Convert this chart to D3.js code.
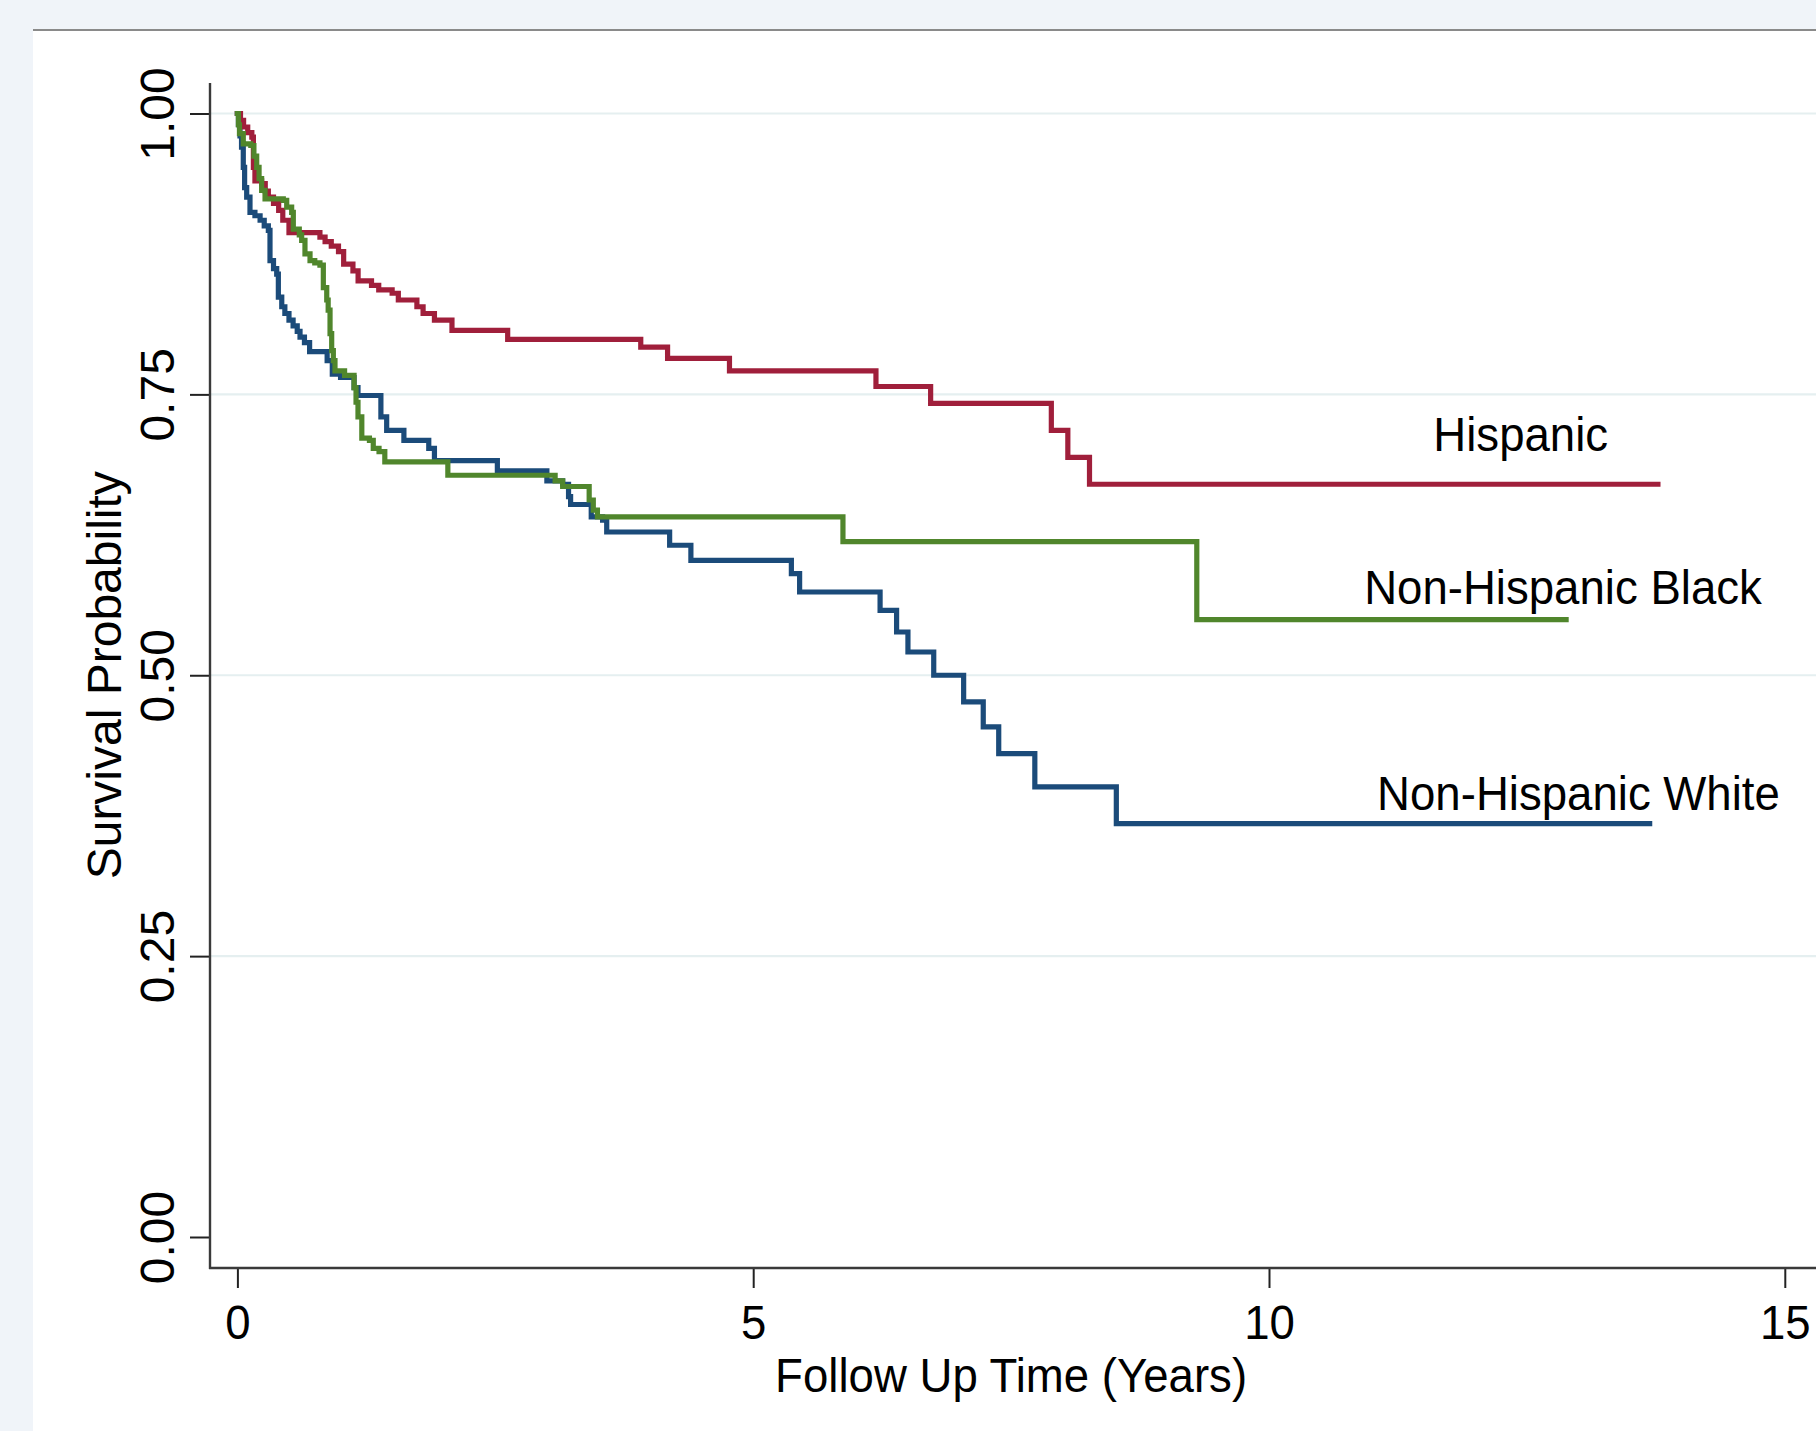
<!DOCTYPE html>
<html><head><meta charset="utf-8">
<script src="https://cdn.jsdelivr.net/npm/d3@7"></script>
<style>
html,body{margin:0;padding:0;background:#f0f4f9;}
svg{display:block;}
text{font-family:"Liberation Sans",Arial,Helvetica,sans-serif;fill:#000;}
</style></head><body>
<svg id="chart" width="1816" height="1431"></svg>
<script>
// ---------- data (Kaplan-Meier step points: time in years, survival probability) ----------
const groups = ["Non-Hispanic White", "Hispanic", "Non-Hispanic Black"];
const groupColors = ["#1b4b7a", "#a01f3b", "#50862c"];

const nhwTime = [0, 0.01, 0.025, 0.04, 0.057, 0.07, 0.09, 0.122, 0.17, 0.22, 0.26, 0.30, 0.316, 0.35, 0.381, 0.397, 0.43, 0.46, 0.50, 0.54, 0.58, 0.607, 0.65, 0.70, 0.87, 0.92, 1.00, 1.131, 1.169, 1.391, 1.447, 1.614, 1.855, 1.91, 2.52, 3.0, 3.153, 3.21, 3.23, 3.43, 3.54, 3.58, 4.19, 4.396, 5.37, 5.45, 6.23, 6.39, 6.50, 6.75, 7.04, 7.23, 7.38, 7.73, 8.52, 13.69];
const nhwSurv = [1.0, 0.99, 0.98, 0.970, 0.952, 0.934, 0.9255, 0.912, 0.909, 0.905, 0.90, 0.896, 0.869, 0.862, 0.857, 0.8366, 0.828, 0.822, 0.816, 0.811, 0.806, 0.801, 0.796, 0.788, 0.780, 0.768, 0.765, 0.756, 0.749, 0.730, 0.718, 0.709, 0.702, 0.691, 0.682, 0.673, 0.670, 0.659, 0.652, 0.641, 0.638, 0.6275, 0.6157, 0.6023, 0.5905, 0.5741, 0.5578, 0.5385, 0.5207, 0.500, 0.4763, 0.454, 0.4303, 0.4006, 0.368, 0.368];

const hispTime = [0, 0.03, 0.06, 0.10, 0.14, 0.155, 0.17, 0.235, 0.27, 0.30, 0.35, 0.40, 0.44, 0.50, 0.80, 0.85, 0.91, 0.98, 1.03, 1.12, 1.17, 1.30, 1.37, 1.50, 1.56, 1.74, 1.80, 1.91, 2.08, 2.62, 3.91, 4.17, 4.77, 6.19, 6.72, 7.89, 8.05, 8.26, 13.77];
const hispSurv = [1.0, 0.994, 0.988, 0.983, 0.979, 0.952, 0.940, 0.9375, 0.931, 0.9255, 0.92, 0.9137, 0.905, 0.894, 0.890, 0.886, 0.882, 0.877, 0.866, 0.860, 0.851, 0.847, 0.843, 0.840, 0.834, 0.828, 0.822, 0.816, 0.807, 0.799, 0.792, 0.782, 0.771, 0.757, 0.742, 0.718, 0.694, 0.670, 0.670];

const nhbTime = [0, 0.01, 0.02, 0.057, 0.13, 0.16, 0.187, 0.21, 0.235, 0.268, 0.445, 0.478, 0.526, 0.542, 0.60, 0.623, 0.655, 0.704, 0.75, 0.80, 0.833, 0.866, 0.88, 0.898, 0.914, 0.93, 0.946, 1.039, 1.131, 1.15, 1.169, 1.206, 1.28, 1.317, 1.373, 1.429, 2.04, 3.08, 3.153, 3.41, 3.45, 3.49, 5.87, 9.30, 12.88];
const nhbSurv = [1.0, 0.99, 0.982, 0.973, 0.9715, 0.962, 0.952, 0.942, 0.9315, 0.924, 0.9226, 0.9166, 0.912, 0.897, 0.892, 0.887, 0.875, 0.869, 0.867, 0.865, 0.845, 0.834, 0.825, 0.804, 0.789, 0.78, 0.771, 0.767, 0.756, 0.743, 0.730, 0.711, 0.709, 0.702, 0.699, 0.690, 0.678, 0.673, 0.668, 0.656, 0.647, 0.641, 0.619, 0.5495, 0.5495];

// curve labels anchored in data units (years, probability)
const labelNames = ["Hispanic", "Non-Hispanic Black", "Non-Hispanic White"];
const labelTime = [12.44, 12.85, 13.0];
const labelSurv = [0.70, 0.563, 0.3805];

const xTicks = [0, 5, 10, 15];
const yTicks = [0, 0.25, 0.5, 0.75, 1];
const gridVals = [0.25, 0.5, 0.75, 1];
const xTitle = "Follow Up Time (Years)";
const yTitle = "Survival Probability";

// ---------- layout ----------
const W = 1816, H = 1431;
const FS = 48, SQ = 0.95;
const svg = d3.select("#chart");
svg.append("rect").attr("width", W).attr("height", H).attr("fill", "#f0f4f9");
svg.append("rect").attr("x", 33).attr("y", 31).attr("width", W - 33).attr("height", H - 31).attr("fill", "#ffffff");
svg.append("line").attr("x1", 33).attr("x2", W).attr("y1", 30).attr("y2", 30)
  .attr("stroke", "#8a8a8a").attr("stroke-width", 2);

const x = d3.scaleLinear().domain([0, 15]).range([237.4, 1784.8]);
const y = d3.scaleLinear().domain([0, 1]).range([1237, 113.5]);
const axisX = 210, axisY = 1268, axisTop = 83;

// gridlines
svg.append("g").selectAll("line").data(gridVals).join("line")
  .attr("x1", axisX).attr("x2", W)
  .attr("y1", d => y(d)).attr("y2", d => y(d))
  .attr("stroke", "#e5eff0").attr("stroke-width", 2.2);

// y axis
const gy = svg.append("g").attr("transform", `translate(${axisX},0)`)
  .call(d3.axisLeft(y).tickValues(yTicks).tickSize(20).tickFormat(d3.format(".2f")));
gy.select(".domain").remove();
gy.selectAll(".tick line").attr("stroke", "#222").attr("stroke-width", 2);
gy.selectAll(".tick text")
  .attr("x", null).attr("dy", null)
  .attr("text-anchor", "middle")
  .attr("transform", "translate(-36.5,0) rotate(-90)")
  .style("font-size", FS + "px").attr("fill", "#000");
svg.append("line").attr("x1", axisX).attr("x2", axisX).attr("y1", axisTop).attr("y2", axisY + 1)
  .attr("stroke", "#3a3a3a").attr("stroke-width", 2.4);

// x axis
const gx = svg.append("g").attr("transform", `translate(0,${axisY})`)
  .call(d3.axisBottom(x).tickValues(xTicks).tickSize(20).tickFormat(d3.format("d")));
gx.select(".domain").remove();
gx.selectAll(".tick line").attr("stroke", "#222").attr("stroke-width", 2);
gx.selectAll(".tick text")
  .attr("y", null).attr("dy", null)
  .attr("transform", `translate(0,71) scale(${SQ},1)`)
  .attr("text-anchor", "middle")
  .style("font-size", FS + "px").attr("fill", "#000");
svg.append("line").attr("x1", axisX - 1).attr("x2", W).attr("y1", axisY).attr("y2", axisY)
  .attr("stroke", "#3a3a3a").attr("stroke-width", 2.6);

// axis titles
svg.append("text")
  .attr("transform", `translate(${(x(0) + x(15)) / 2},1392) scale(${SQ},1)`)
  .attr("text-anchor", "middle").style("font-size", FS + "px").text(xTitle);
svg.append("text")
  .attr("transform", `translate(121,${(y(0) + y(1)) / 2}) rotate(-90)`)
  .attr("text-anchor", "middle").style("font-size", FS + "px").text(yTitle);

// curves
const series = [
  { name: groups[0], color: groupColors[0], pts: d3.zip(nhwTime, nhwSurv) },
  { name: groups[1], color: groupColors[1], pts: d3.zip(hispTime, hispSurv) },
  { name: groups[2], color: groupColors[2], pts: d3.zip(nhbTime, nhbSurv) }
];
const line = d3.line().x(d => x(d[0])).y(d => y(d[1])).curve(d3.curveStepAfter);
svg.append("g").selectAll("path").data(series).join("path")
  .attr("d", d => line(d.pts))
  .attr("fill", "none")
  .attr("stroke", d => d.color)
  .attr("stroke-width", 5.2)
  .attr("stroke-linejoin", "miter")
  .attr("stroke-linecap", "square");

// curve labels
svg.append("g").selectAll("text").data(labelNames).join("text")
  .attr("transform", (d, i) => `translate(${x(labelTime[i])},${y(labelSurv[i])}) scale(${SQ},1)`)
  .attr("text-anchor", "middle")
  .style("font-size", FS + "px")
  .text(d => d);
</script>
</body></html>
